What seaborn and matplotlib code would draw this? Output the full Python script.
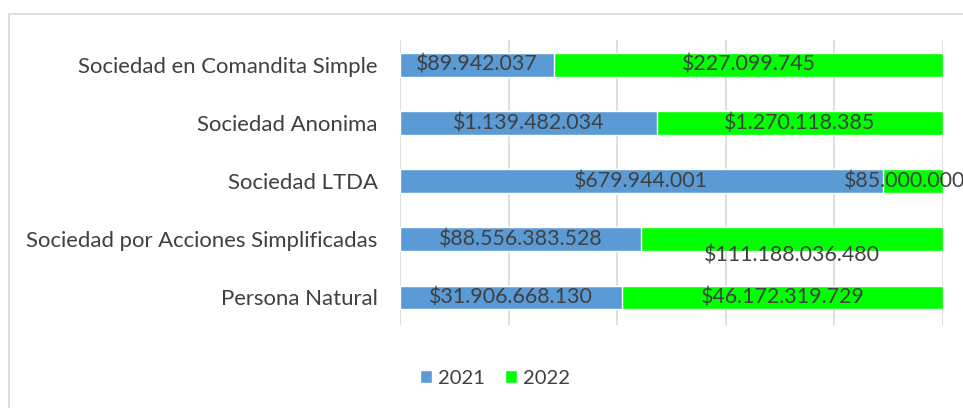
import matplotlib
matplotlib.use("Agg")
import matplotlib.pyplot as plt
import seaborn as sns
import pandas as pd
from matplotlib.patches import Rectangle, Patch

categories = ["Sociedad en Comandita Simple", "Sociedad Anonima", "Sociedad LTDA",
              "Sociedad por Acciones Simplificadas", "Persona Natural"]
v2021 = [89942037, 1139482034, 679944001, 88556383528, 31906668130]
v2022 = [227099745, 1270118385, 85000000, 111188036480, 46172319729]
series = ["2021", "2022"]

def fmt(v):
    return "$" + f"{v:,}".replace(",", ".")

df = pd.DataFrame({"cat": categories, "v2021": v2021, "v2022": v2022})
df["total"] = df["v2021"] + df["v2022"]
df["s2021"] = df["v2021"] / df["total"]
df["s_all"] = 1.0

sns.set_theme(style="white")
plt.rcParams['font.family'] = ['Lato', 'DejaVu Sans']

blue = "#5B9BD5"
green = "#00FF00"
txt = "#404040"

fig = plt.figure(figsize=(9.63, 4.08), dpi=100)
ax = fig.add_axes([400/963, 1-325/408, 543/963, 285/408])

sns.barplot(data=df, x="s_all", y="cat", order=categories, color=green,
            width=0.4, orient="h", ax=ax, saturation=1, zorder=3)
sns.barplot(data=df, x="s2021", y="cat", order=categories, color=blue,
            width=0.4, orient="h", ax=ax, saturation=1, zorder=4)

ax.set_xlim(0, 1)
ax.set_ylim(4.48, -0.43)
ax.set_xticks([0, 0.2, 0.4, 0.6, 0.8, 1.0])
ax.set_xticklabels([])
ax.xaxis.grid(True, color="#D9D9D9", linewidth=1.2, zorder=0)
ax.yaxis.grid(False)
for s in ax.spines.values():
    s.set_visible(False)
ax.set_xlabel("")
ax.set_ylabel("")
ax.tick_params(axis="both", length=0)
ax.tick_params(axis="y", pad=16, labelsize=15.9, labelcolor=txt)

fs = 15.4
for i, row in df.iterrows():
    s = row["s2021"]
    ax.text(s / 2, i, fmt(row["v2021"]), ha="center", va="center",
            fontsize=fs, color=txt, zorder=6)
    dy = 0.29 if i == 3 else 0.0
    dx = -0.015 if i == 2 else 0.0
    ax.text((s + 1) / 2 + dx, i + dy, fmt(row["v2022"]), ha="center", va="center",
            fontsize=fs, color=txt, zorder=6, clip_on=False)

handles = [Patch(facecolor=blue, label=series[0]), Patch(facecolor=green, label=series[1])]
fig.legend(handles=handles, loc="center", bbox_to_anchor=(495/963, 1-378/408),
           ncol=2, frameon=False, fontsize=14.5, labelcolor=txt,
           handlelength=0.6, handleheight=0.6, handletextpad=0.3, columnspacing=1.0)

fig.patches.append(Rectangle((9/963, -0.1), 1.1, 1 - 14/408 + 0.1,
                             transform=fig.transFigure, fill=False,
                             edgecolor="#D9D9D9", linewidth=1.2))

fig.savefig("out.png", dpi=100)
